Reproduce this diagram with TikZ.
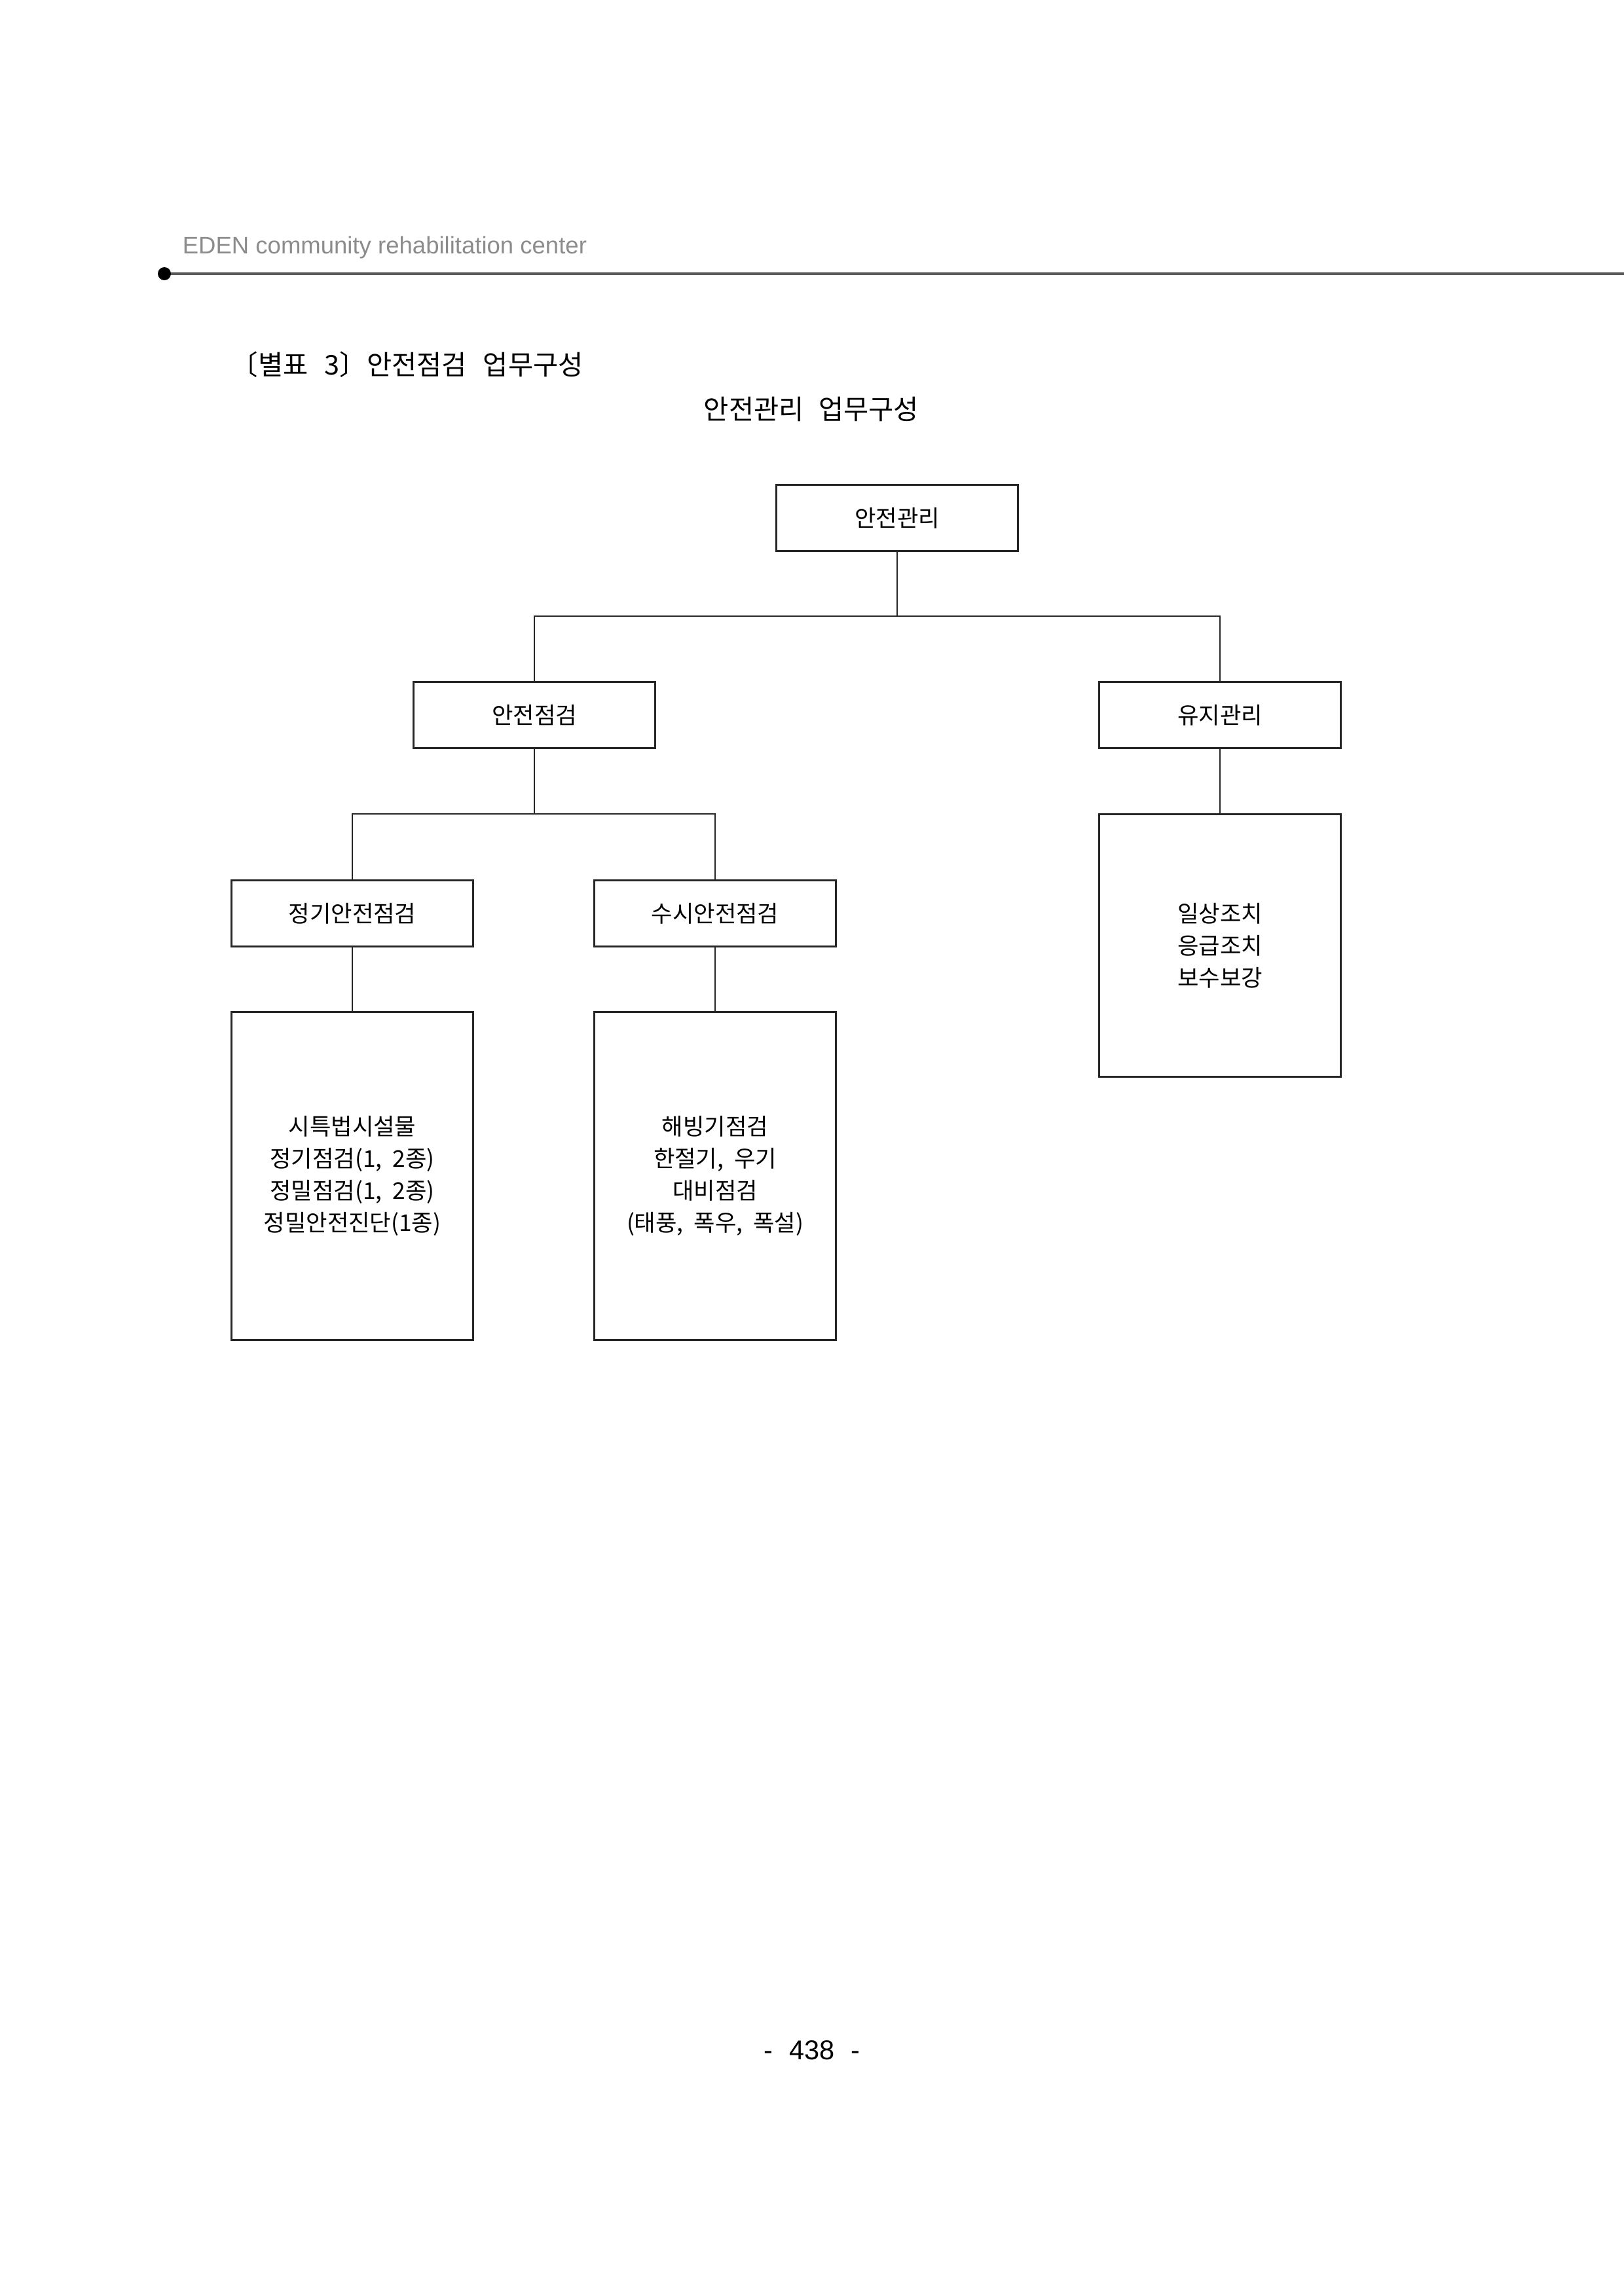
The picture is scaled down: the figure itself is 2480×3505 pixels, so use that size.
\documentclass[tikz,border=0pt]{standalone}
\usepackage{fontspec}
\setmainfont{Liberation Sans}
\newfontfamily\kr{Noto Sans CJK KR}
\newcommand\csp{,\hspace{0.45em}}
\begin{document}
\begin{tikzpicture}[x=0.2409pt,y=-0.2409pt,
  box/.style={draw=black!85,line width=0.7pt,inner sep=0pt,align=center,
    minimum width=88.9pt,minimum height=24.33pt,font=\kr\fontsize{8.5}{11.8}\selectfont},
  conn/.style={draw=black!85,line width=0.5pt}]
\useasboundingbox (0,0) rectangle (2480,3505);
% header
\node[anchor=base west,text=black!45,font=\fontsize{8.8}{10}\selectfont,inner sep=0pt] (hdr) at (278,387) {EDEN community rehabilitation center};
\coordinate (hl) at (251,418);
\coordinate (hr) at (2480,418);
\draw[line width=0.9pt,black!65] (hl) -- (hr);
\fill[black] (hl) circle (10);
% titles
\node[anchor=base west,inner sep=0pt,font=\kr\fontsize{10}{12}\selectfont] (ttl) at (352,572) {〔별표\hspace{0.6em}3〕안전점검\hspace{0.6em}업무구성};
\node[anchor=base,inner sep=0pt,font=\kr\fontsize{10}{12}\selectfont] (sub) at (1239,640) {안전관리\hspace{0.55em}업무구성};
% boxes
\node[box,minimum width=89.1pt] (top) at (1370,791) {안전관리};
\node[box] (a) at (816,1092) {안전점검};
\node[box] (m) at (1863,1092) {유지관리};
\node[box] (p) at (538,1395) {정기안전점검};
\node[box] (q) at (1092,1395) {수시안전점검};
\node[box,minimum height=120.7pt] (pd) at (538,1796) {시특법시설물\\정기점검(1\csp 2종)\\정밀점검(1\csp 2종)\\정밀안전진단(1종)};
\node[box,minimum height=120.7pt] (qd) at (1092,1796) {해빙기점검\\한절기\csp 우기\\대비점검\\(태풍\csp 폭우\csp 폭설)};
\node[box,minimum height=96.6pt] (md) at (1863,1444) {일상조치\\응급조치\\보수보강};
% connectors
\coordinate (b1) at (1370,941);
\coordinate (b2) at (816,1243);
\draw[conn] (top.south) -- (b1);
\draw[conn] (a.north) |- (b1) -| (m.north);
\draw[conn] (a.south) -- (b2);
\draw[conn] (p.north) |- (b2) -| (q.north);
\draw[conn] (m.south) -- (md.north);
\draw[conn] (p.south) -- (pd.north);
\draw[conn] (q.south) -- (qd.north);
% page number
\node[anchor=base,inner sep=0pt,font=\fontsize{10}{12}\selectfont] (pg) at (1240,3145) {-\hspace{0.6em}438\hspace{0.6em}-};
\end{tikzpicture}
\end{document}
